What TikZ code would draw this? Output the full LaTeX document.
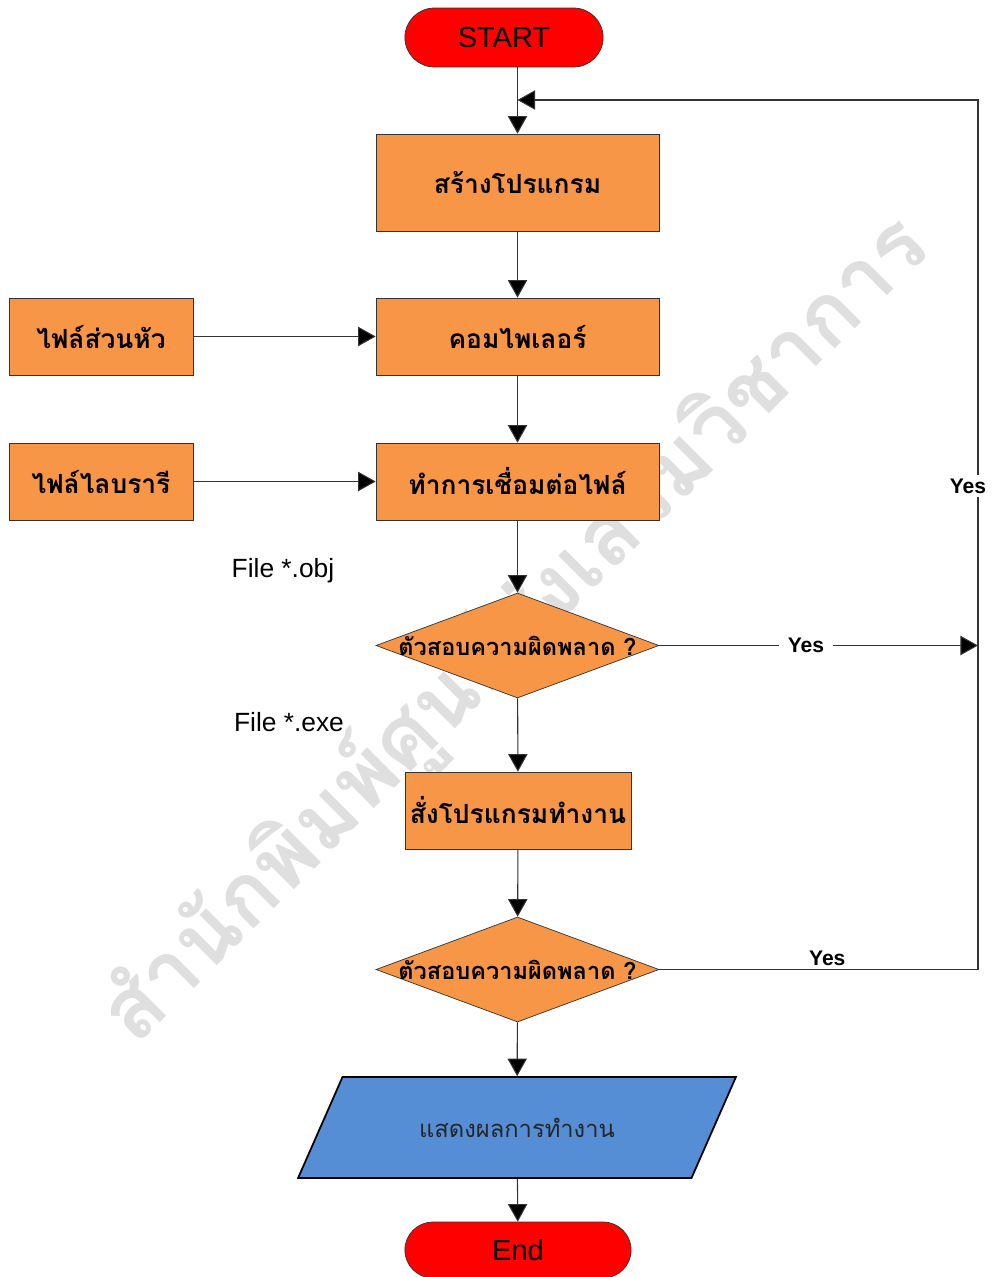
\documentclass[tikz,border=0pt]{standalone}
\usepackage{fontspec}
\setmainfont{Liberation Sans}
\newfontfamily\thaifont[Script=Thai]{Loma}
\usetikzlibrary{shapes.geometric,shapes.misc,arrows.meta}
\definecolor{boxorange}{HTML}{F79646}
\definecolor{outblue}{HTML}{558ED5}
\begin{document}
\begin{tikzpicture}[x=0.02cm,y=-0.02cm,
	process/.style={rectangle,draw=black!80,fill=boxorange,inner sep=0pt,font=\thaifont\bfseries\fontsize{15}{18}\selectfont},
	decision/.style={diamond,draw=black!80,fill=boxorange,minimum width=5.66cm,minimum height=2.1cm,inner sep=0pt},
	asktext/.style={font=\thaifont\bfseries\fontsize{13.4}{16}\selectfont},
	terminal/.style={rounded rectangle,draw=black!80,fill=red,font=\fontsize{16.5}{20}\selectfont},
	note/.style={font=\fontsize{15}{18}\selectfont},
	yes/.style={font=\bfseries\fontsize{12}{14}\selectfont,inner sep=2pt},
	line/.style={draw=black!80,line width=0.6pt},
	arrow/.style={line,-{Triangle[length=10pt,width=11pt,fill=black]}}]
	\useasboundingbox (0,0) rectangle (993,1277);
	% watermark
	\node[rotate=45,text=gray!25,font=\thaifont\bfseries\fontsize{49}{54}\selectfont] (mark) at (515,630) {สำนักพิมพ์ศูนย์ส่งเสริมวิชาการ};
	% flow
	\node[terminal,minimum width=4.2cm,minimum height=1.18cm] (start) at (504,37.5) {START};
	\node[process,minimum width=5.66cm,minimum height=1.94cm] (make) at (517.5,182.5) {สร้างโปรแกรม};
	\node[process,minimum width=5.66cm,minimum height=1.54cm] (compile) at (517.5,336.5) {คอมไพเลอร์};
	\node[process,minimum width=5.66cm,minimum height=1.54cm] (link) at (517.5,481.5) {ทำการเชื่อมต่อไฟล์};
	\node[process,minimum width=3.68cm,minimum height=1.54cm] (header) at (101,336.5) {ไฟล์ส่วนหัว};
	\node[process,minimum width=3.68cm,minimum height=1.54cm] (library) at (101,481.5) {ไฟล์ไลบรารี};
	\node[decision,label={[asktext]center:ตัวสอบความผิดพลาด ?}] (check1) at (517.5,645.5) {};
	\node[process,minimum width=4.52cm,minimum height=1.54cm] (run) at (518,810.5) {สั่งโปรแกรมทำงาน};
	\node[decision,label={[asktext]center:ตัวสอบความผิดพลาด ?}] (check2) at (517.5,969.5) {};
	\node[trapezium,trapezium left angle=38,trapezium right angle=142,trapezium stretches=true,draw=black,line width=1pt,fill=outblue,minimum width=8.76cm,minimum height=2.02cm,inner sep=0pt,font=\thaifont\fontsize{13.5}{16}\selectfont,text=black!85] (show) at (517,1127.5) {แสดงผลการทำงาน};
	\node[terminal,minimum width=4.76cm,minimum height=1.12cm] (end) at (518,1250) {End};
	\node[note] (obj) at (283,571) {File *.obj};
	\node[note] (exe) at (289,722) {File *.exe};
	\coordinate (join) at (978,645.5);
	\coordinate (corner) at (978,969.5);
	\coordinate (top) at (978,100);
	\coordinate (back) at (517.5,100);
	\draw[arrow] (make.north |- start.south) -- (make.north);
	\foreach \from/\to in {make/compile,compile/link,link/check1,check1/run,run/check2,check2/show,show/end,header/compile,library/link}
	\draw[arrow] (\from) -- (\to);
	\draw[arrow] (check1.east) -- node[yes,fill=white,pos=0.46,inner xsep=5pt] {Yes} (join);
	\draw[arrow] (check2.east) -- node[yes,above,pos=0.527] {Yes} (corner) -- node[yes,fill=white,pos=0.556,xshift=-0.2cm] {Yes} (top) -- (back);
\end{tikzpicture}
\end{document}
